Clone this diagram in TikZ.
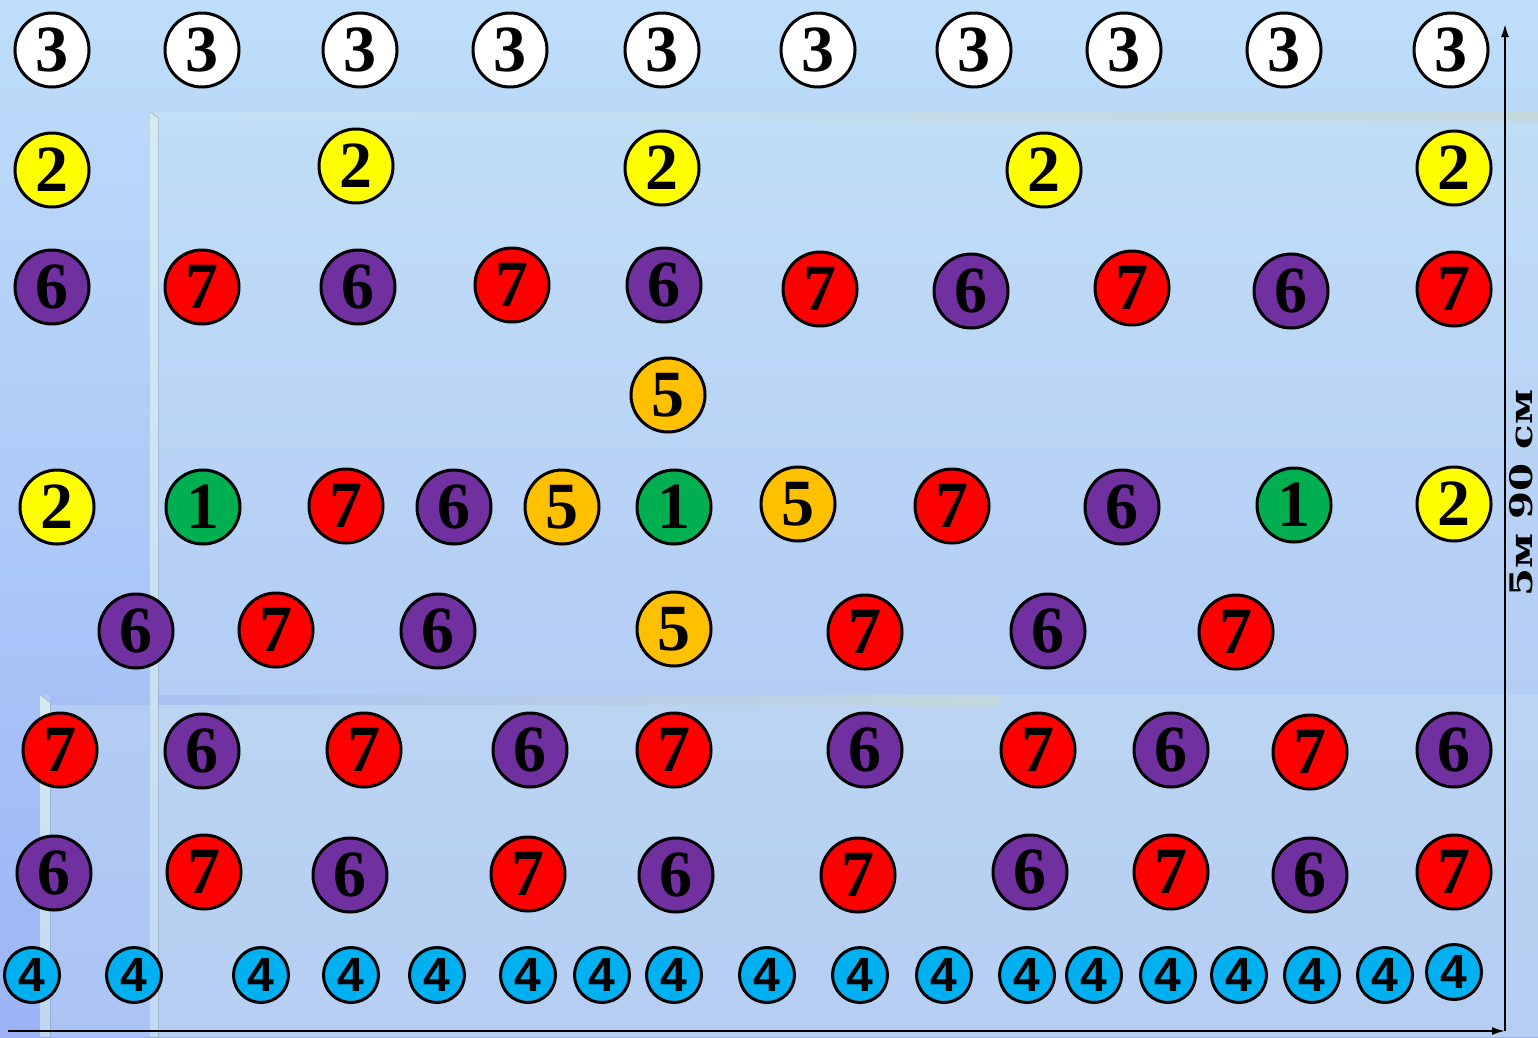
\documentclass[tikz,border=0pt]{standalone}
\usepackage{fontspec}
\usetikzlibrary{arrows.meta}
\newfontfamily\digserif{Liberation Serif}
\newfontfamily\digsans{Liberation Sans}
\newfontfamily\labfont{DejaVu Serif}
\definecolor{bgtop}{HTML}{BEDEFA}
\definecolor{bgbot}{HTML}{9CB4F6}
\definecolor{ovl}{HTML}{D0E8F0}
\definecolor{edgepale}{HTML}{D6EAF0}
\definecolor{edgepale2}{HTML}{C2DAF2}
\definecolor{edgegray}{HTML}{C4D8DC}
\definecolor{cyellow}{HTML}{FFFF00}
\definecolor{cpurple}{HTML}{7030A0}
\definecolor{cred}{HTML}{FF0000}
\definecolor{corange}{HTML}{FFC000}
\definecolor{cgreen}{HTML}{00B050}
\definecolor{cblue}{HTML}{00B0F0}
\begin{document}
\begin{tikzpicture}[x=1pt,y=-1pt,
  ball/.style={circle,draw=black,line width=3pt,minimum size=74pt,inner sep=0pt,
    font=\digserif\bfseries\fontsize{66}{66}\selectfont},
  d1/.style={ball,fill=cgreen},
  d2/.style={ball,fill=cyellow},
  d3/.style={ball,fill=white},
  d5/.style={ball,fill=corange},
  d6/.style={ball,fill=cpurple},
  d7/.style={ball,fill=cred},
  d4/.style={circle,draw=black,line width=3pt,minimum size=55pt,inner sep=0pt,fill=cblue,
    font=\digsans\bfseries\fontsize{48}{48}\selectfont},
  axis/.style={line width=2pt,-{Latex[length=13pt,width=8pt]}}
]
\useasboundingbox (0,0) rectangle (1538,1037);
% background
\fill[top color=bgtop,bottom color=bgbot] (0,0) rectangle (1538,1037);
\fill[ovl,opacity=0.3] (150,112) rectangle (1538,1037);
\fill[ovl,opacity=0.3] (40,695) rectangle (1538,1037);
% panel edges
\fill[left color=bgtop!80!ovl,right color=edgegray] (158,112) rectangle (1538,120);
\fill[left color=ovl!20!bgbot,right color=edgegray] (50,695) rectangle (1000,704);
\fill[top color=edgepale,bottom color=edgepale2] (150,112) -- (158,118) -- (158,1037) -- (150,1037) -- cycle;
\fill[top color=edgepale,bottom color=edgepale2!90!bgbot] (40,695) -- (50,702) -- (50,1037) -- (40,1037) -- cycle;
% axes
\coordinate (o) at (1505,1031);
\coordinate (topend) at (1505,24);
\coordinate (leftend) at (8,1031);
\draw[axis] (o) -- (topend);
\draw[axis] (leftend) -- (o);
\node[rotate=90,inner sep=0pt,font=\labfont\bfseries\fontsize{31}{31}\selectfont] (lbl) at (1521,493) {\scalebox{1.3}[1]{5м 90 см}};
% balls
\foreach \d/\x/\y [count=\i] in {
 3/52/50, 3/202/50, 3/360/50, 3/510/50, 3/662/50, 3/818/50, 3/974/50, 3/1124/50, 3/1284/50, 3/1451/50,
 2/52/170, 2/356/166, 2/662/168, 2/1044/170, 2/1454/168,
 6/52/287, 7/202/287, 6/358/287, 7/512/285, 6/664/285, 7/820/289, 6/971/291, 7/1132/288, 6/1291/291, 7/1454/289,
 5/668/395,
 2/57/507, 1/203/507, 7/346/506, 6/454/507, 5/562/507, 1/674/507, 5/798/504, 7/952/506, 6/1122/507, 1/1294/505, 2/1454/504,
 6/136/631, 7/276/630, 6/438/631, 5/674/629, 7/865/632, 6/1048/631, 7/1236/632,
 7/60/750, 6/202/751, 7/364/750, 6/530/750, 7/674/750, 6/865/750, 7/1038/750, 6/1171/750, 7/1310/752, 6/1454/750,
 6/54/873, 7/204/872, 6/350/875, 7/528/874, 6/676/875, 7/858/875, 6/1030/872, 7/1171/872, 6/1310/875, 7/1454/872,
 4/32/975, 4/134/975, 4/261/975, 4/351/975, 4/437/975, 4/528/975, 4/602/975, 4/674/975, 4/767/975,
 4/860/975, 4/944/975, 4/1027/975, 4/1094/975, 4/1168/975, 4/1239/975, 4/1312/975, 4/1385/975, 4/1454/972}
 \node[d\d] (b\i) at (\x,\y) {\d};
\end{tikzpicture}
\end{document}
